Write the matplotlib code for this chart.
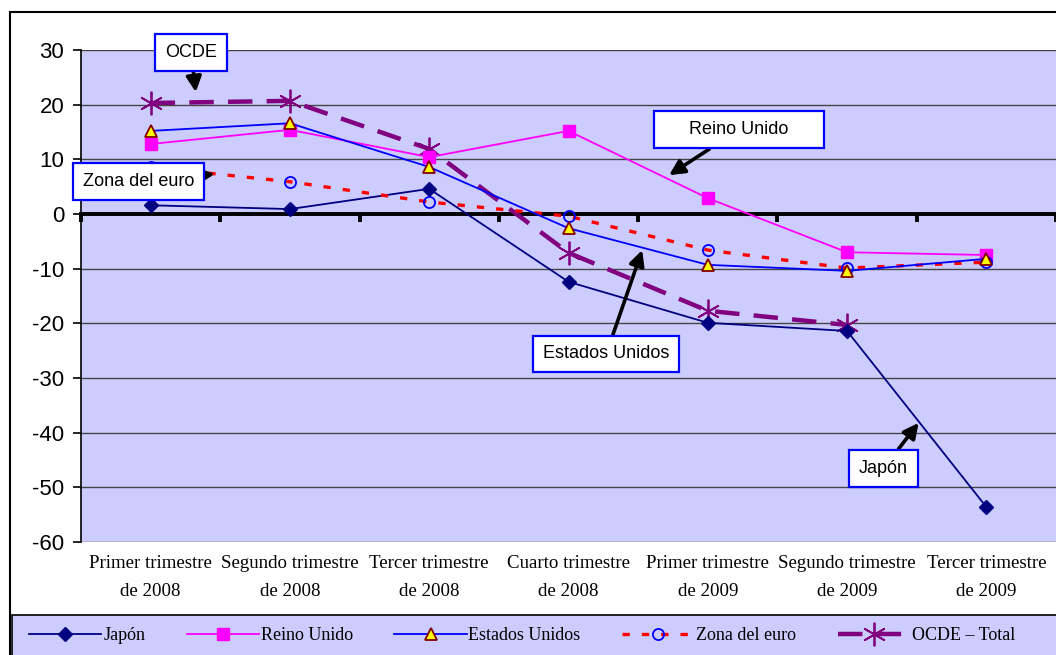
import matplotlib
matplotlib.use("Agg")
import matplotlib.pyplot as plt
from matplotlib.patches import Rectangle

# data
categories = ["Primer trimestre\nde 2008", "Segundo trimestre\nde 2008", "Tercer trimestre\nde 2008",
              "Cuarto trimestre\nde 2008", "Primer trimestre\nde 2009", "Segundo trimestre\nde 2009",
              "Tercer trimestre\nde 2009"]
japon = [1.6, 0.9, 4.6, -12.4, -19.9, -21.4, -53.6]
reino_unido = [12.8, 15.4, 10.4, 15.2, 2.9, -7.0, -7.5]
estados_unidos = [15.2, 16.6, 8.6, -2.6, -9.3, -10.4, -8.2]
zona_euro = [8.6, 5.9, 2.2, -0.4, -6.6, -9.9, -8.8]
ocde = [20.3, 20.7, 11.9, -7.1, -17.7, -20.3]
yticks = list(range(-60, 31, 10))

bg = "#CCCCFF"
serif = "Liberation Serif"
sans = "Liberation Sans"

fig = plt.figure(figsize=(10.56, 6.55), dpi=100)
ax = fig.add_axes([81/1056, 1 - 542/655, 1 - 81/1056, (542 - 50)/655])
ax.set_facecolor(bg)

x = list(range(len(categories)))
ax.plot(x, japon, color="#000080", lw=1.3, marker="D", ms=7, mfc="#000080", mec="#000080", label="Japón", zorder=4)
ax.plot(x, reino_unido, color="#FF00FF", lw=1.3, marker="s", ms=8, mfc="#FF00FF", mec="#FF00FF", label="Reino Unido", zorder=4)
ax.plot(x, estados_unidos, color="#0000FF", lw=1.3, marker="^", ms=9, mfc="#FFFF00", mec="#800000", mew=1.3,
        label="Estados Unidos", zorder=5)
ax.plot(x, zona_euro, color="#FF0000", lw=2.4, dashes=(2.2, 3.6), marker="o", ms=8, mfc="none", mec="#0000FF",
        mew=1.3, label="Zona del euro", zorder=4)
ax.plot(x[:len(ocde)], ocde, color="#800080", lw=3.2, dashes=(5.5, 3.2), marker=(6, 2, 0), ms=17, mec="#800080",
        mew=1.3, label="OCDE – Total", zorder=3)

ax.set_xlim(-0.5, 6.5)
ax.set_ylim(-60, 30)
ax.set_yticks(yticks)
ax.set_yticklabels([str(v) for v in yticks], fontsize=16, fontfamily=sans)
ax.tick_params(axis="y", direction="out", length=6, width=1.2, pad=6)
ax.grid(axis="y", color="#444444", lw=1.0)
ax.set_axisbelow(True)

# horizontal axis crossing at zero, with tick marks between categories
ax.spines["bottom"].set_position(("data", 0))
ax.spines["bottom"].set_linewidth(2.8)
ax.spines["bottom"].set_zorder(2.5)
ax.set_xticks([i - 0.5 for i in range(len(categories) + 1)])
ax.set_xticklabels([])
ax.tick_params(axis="x", direction="out", length=6, width=2.8)
for s in ["top", "right"]:
    ax.spines[s].set_visible(False)
ax.spines["left"].set_linewidth(1.2)

sec = ax.secondary_xaxis(0)
sec.set_xticks(x)
sec.set_xticklabels(categories, fontsize=13.6, fontfamily=serif, linespacing=1.9)
sec.tick_params(length=0, pad=9)
sec.spines["bottom"].set_visible(False)

# callouts
box = dict(boxstyle="square,pad=0.55", fc="white", ec="#0000FF", lw=1.6)
arrow = dict(arrowstyle="-|>,head_length=0.7,head_width=0.35", color="black", lw=2.6, shrinkA=0, shrinkB=0)
notes = [("OCDE", (0.29, 29.6), (0.324, 22.3)),
         ("Zona del euro", (-0.085, 5.9), (0.46, 7.3)),
         ("     Reino Unido     ", (4.224, 15.4), (3.722, 7.1)),
         ("Estados Unidos", (3.271, -25.6), (3.529, -6.6)),
         ("Japón", (5.263, -46.5), (5.514, -38.2))]
for txt, pos, tip in notes:
    ax.annotate(txt, xy=tip, xytext=pos, ha="center", va="center", fontsize=13, fontfamily=sans,
                bbox=box, arrowprops=arrow, zorder=6, annotation_clip=False)

# legend band along the bottom
fig.add_artist(Rectangle((12/1056, -0.05), 1.1, (655 - 615)/655 + 0.05, transform=fig.transFigure,
                         fc=bg, ec="black", lw=1.2, clip_on=False))
leg = fig.legend(loc="center left", bbox_to_anchor=(22/1056, 1 - 636/655), ncol=5, frameon=False,
                 handlelength=4.0, handletextpad=0.1, columnspacing=2.3,
                 prop={"family": serif, "size": 13}, borderaxespad=0.0)

fig.add_artist(Rectangle((10/1056, -0.05), 1.1, (655 - 12)/655 + 0.05, transform=fig.transFigure,
                         fc="none", ec="black", lw=1.5, clip_on=False))

fig.savefig("out.png", dpi=100)
